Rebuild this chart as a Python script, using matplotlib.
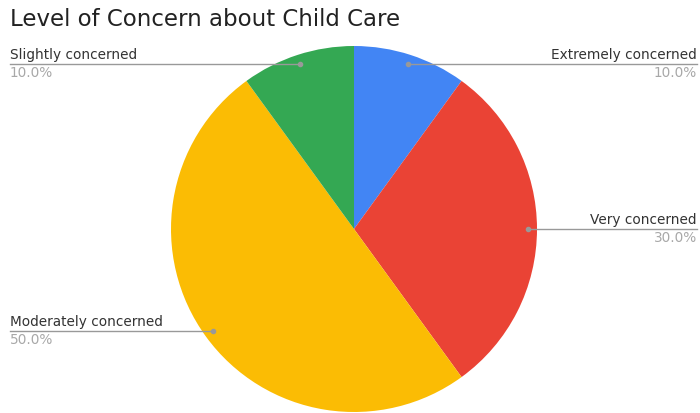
import numpy as np
import matplotlib
matplotlib.use('Agg')
import matplotlib.pyplot as plt

# data, clockwise from 12 o'clock
categories = ['Extremely concerned', 'Very concerned',
              'Moderately concerned', 'Slightly concerned']
shares = [10.0, 30.0, 50.0, 10.0]
colors = ['#4285F4', '#EA4335', '#FBBC04', '#34A853']

W, H = 700, 413
fig = plt.figure(figsize=(W / 100, H / 100), dpi=100)
ax = fig.add_axes([0, 0, 1, 1])

cx, cy, r = 354, H - 229, 183
ax.pie(shares, colors=colors, startangle=90, counterclock=False,
       center=(cx, cy), radius=r, frame=True,
       wedgeprops=dict(linewidth=0))
ax.set_xlim(0, W)
ax.set_ylim(0, H)
ax.set_aspect('equal')
ax.axis('off')

fig.text(10 / W, 1 - 19 / H, 'Level of Concern about Child Care',
         fontsize=16.5, color='#222222', va='center', ha='left')

# which side each label sits on
sides = ['right', 'right', 'left', 'left']
line_color = '#999999'
total = sum(shares)
start = 0.0
for name, val, side in zip(categories, shares, sides):
    mid = np.radians(start + val / total * 360 / 2)
    start += val / total * 360
    px = cx + 0.95 * r * np.sin(mid)
    py = cy + 0.95 * r * np.cos(mid)
    if side == 'right':
        x_end, ha = 697, 'right'
    else:
        x_end, ha = 10, 'left'
    ax.plot([px, x_end], [py, py], color=line_color, lw=1, zorder=3)
    ax.plot([px], [py], 'o', color=line_color, ms=3, zorder=4)
    ax.text(x_end, py + 2, name, ha=ha, va='bottom', fontsize=9.8,
            color='#333333')
    ax.text(x_end, py - 2, f'{val:.1f}%', ha=ha, va='top', fontsize=9.8,
            color='#a8a8a8')

fig.savefig('out.png', dpi=100)
